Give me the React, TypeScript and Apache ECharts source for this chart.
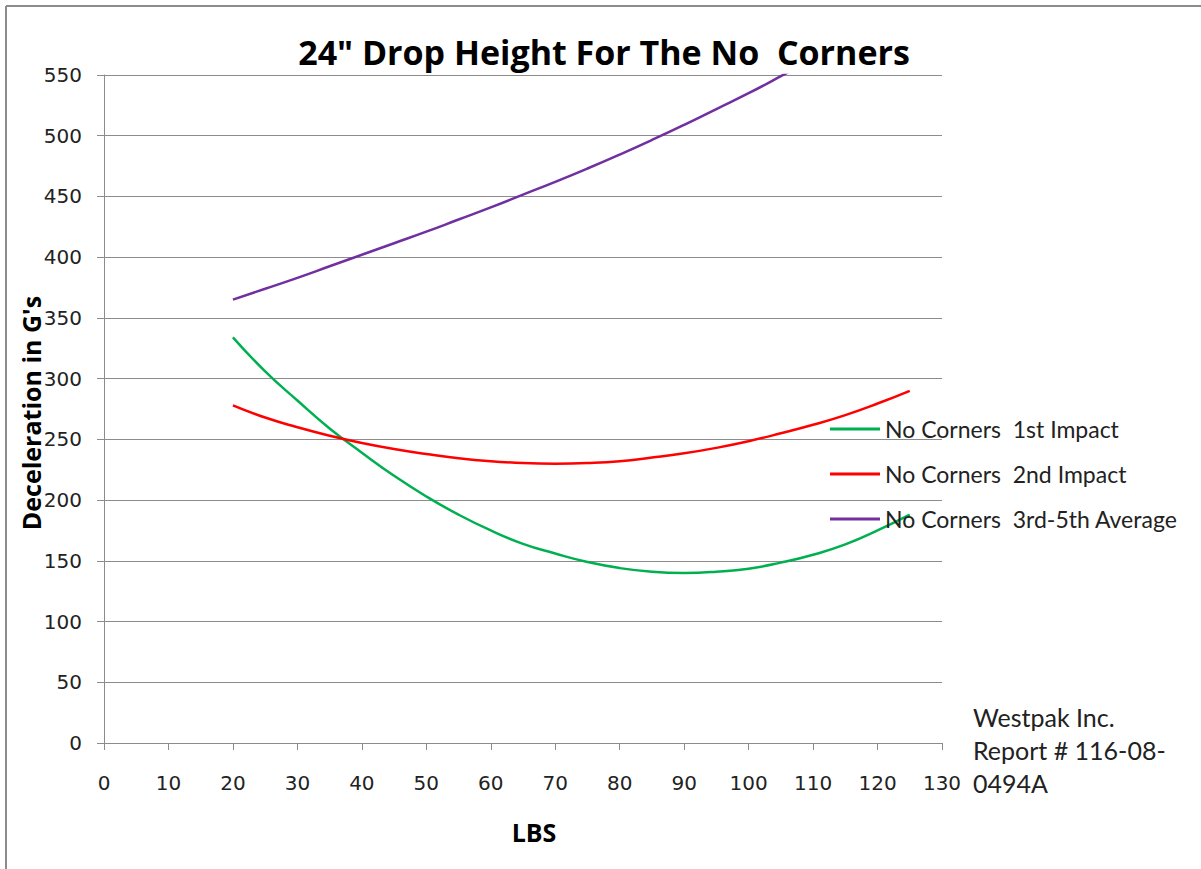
import React, { useEffect, useRef } from "react";
import * as echarts from "echarts";

const lbs = [20, 25, 30, 35, 40, 45, 50, 55, 60, 65, 70, 75, 80, 85, 90, 95, 100, 105, 110, 115, 120, 125];
const firstImpact = [334, 306, 282, 259, 239, 220, 203, 188, 175, 164, 156, 149, 144, 141, 140, 141, 143.5, 148.5, 155, 163.5, 175, 188];
const secondImpact = [278, 268, 260, 253, 247, 242, 238, 234.5, 232, 230.5, 230, 230.5, 232, 235, 238.5, 243, 248.5, 255, 262, 270, 279.5, 290];
const thirdFifthAvg = [365, 374, 383, 392.5, 402, 411.5, 421, 431, 441, 451.5, 462, 473, 484.5, 496.5, 509, 522, 535, 549, 563.5, 578.5, 594, 610];

const seriesNames = ["No Corners  1st Impact", "No Corners  2nd Impact", "No Corners  3rd-5th Average"];
const seriesColors = ["#00B050", "#FF0000", "#7030A0"];
const titleText = "24\" Drop Height For The No  Corners";
const xName = "LBS";
const yName = "Deceleration in G's";
const noteLines = ["Westpak Inc.", "Report # 116-08-", "0494A"];

const boldFont = "'Open Sans', Lato, sans-serif";
const textFont = "Lato, 'Open Sans', sans-serif";
const labelFont = "'DejaVu Sans', Verdana, sans-serif";

export default function App() {
  const ref = useRef<HTMLDivElement>(null);
  useEffect(() => {
    if (!ref.current) return;
    const chart = echarts.init(ref.current, null, { renderer: "svg" });
    const allSeries = [firstImpact, secondImpact, thirdFifthAvg];
    chart.setOption({
      animation: false,
      backgroundColor: "#ffffff",
      grid: { left: 104, right: 259, top: 75, bottom: 126 },
      legend: {
        orient: "vertical",
        left: 830,
        top: 417,
        padding: 0,
        itemGap: 21,
        itemWidth: 50,
        itemHeight: 3,
        icon: "rect",
        data: seriesNames,
        textStyle: { fontSize: 23, fontFamily: textFont, color: "#222", lineHeight: 24, padding: [0, 0, 0, 0] },
      },
      xAxis: {
        type: "value",
        min: 0,
        max: 130,
        interval: 10,
        axisLine: { show: true, lineStyle: { color: "#8c8c8c", width: 1 } },
        axisTick: { show: true, length: 7, lineStyle: { color: "#8c8c8c" } },
        splitLine: { show: false },
        axisLabel: { margin: 30, fontSize: 20, fontFamily: labelFont, color: "#222" },
      },
      yAxis: {
        type: "value",
        min: 0,
        max: 550,
        interval: 50,
        axisLine: { show: true, lineStyle: { color: "#8c8c8c", width: 1 } },
        axisTick: { show: true, length: 7, lineStyle: { color: "#8c8c8c" } },
        splitLine: { show: true, lineStyle: { color: "#8c8c8c", width: 1 } },
        axisLabel: { margin: 22, fontSize: 20, fontFamily: labelFont, color: "#222" },
      },
      series: allSeries.map((vals, i) => ({
        name: seriesNames[i],
        type: "line",
        data: lbs.map((x, j) => [x, vals[j]]),
        smooth: true,
        symbol: "none",
        clip: true,
        lineStyle: { color: seriesColors[i], width: 2.5 },
        itemStyle: { color: seriesColors[i] },
      })),
      graphic: [
        {
          type: "line",
          shape: { x1: 6, y1: 6, x2: 1201, y2: 6 },
          style: { stroke: "#8c8c8c", lineWidth: 2 },
        },
        {
          type: "line",
          shape: { x1: 6, y1: 6, x2: 6, y2: 869 },
          style: { stroke: "#8c8c8c", lineWidth: 2 },
        },
        {
          type: "text",
          x: 604,
          y: 52,
          style: {
            text: titleText,
            font: `bold 34px ${boldFont}`,
            fill: "#000",
            align: "center",
            verticalAlign: "middle",
          },
        },
        {
          type: "text",
          x: 31,
          y: 413,
          rotation: Math.PI / 2,
          style: {
            text: yName,
            font: `bold 25px ${boldFont}`,
            fill: "#000",
            align: "center",
            verticalAlign: "middle",
          },
        },
        {
          type: "text",
          x: 534,
          y: 832,
          style: {
            text: xName,
            font: `bold 25px ${boldFont}`,
            fill: "#000",
            align: "center",
            verticalAlign: "middle",
          },
        },
        ...noteLines.map((t, i) => ({
          type: "text",
          x: 973,
          y: 717 + i * 33,
          style: {
            text: t,
            font: `25px ${textFont}`,
            fill: "#222",
            align: "left",
            verticalAlign: "middle",
          },
        })),
      ],
    });
    return () => chart.dispose();
  }, []);
  return (
    <div
      ref={ref}
      style={{ position: "fixed", left: 0, top: 0, width: 1201, height: 869 }}
    />
  );
}
